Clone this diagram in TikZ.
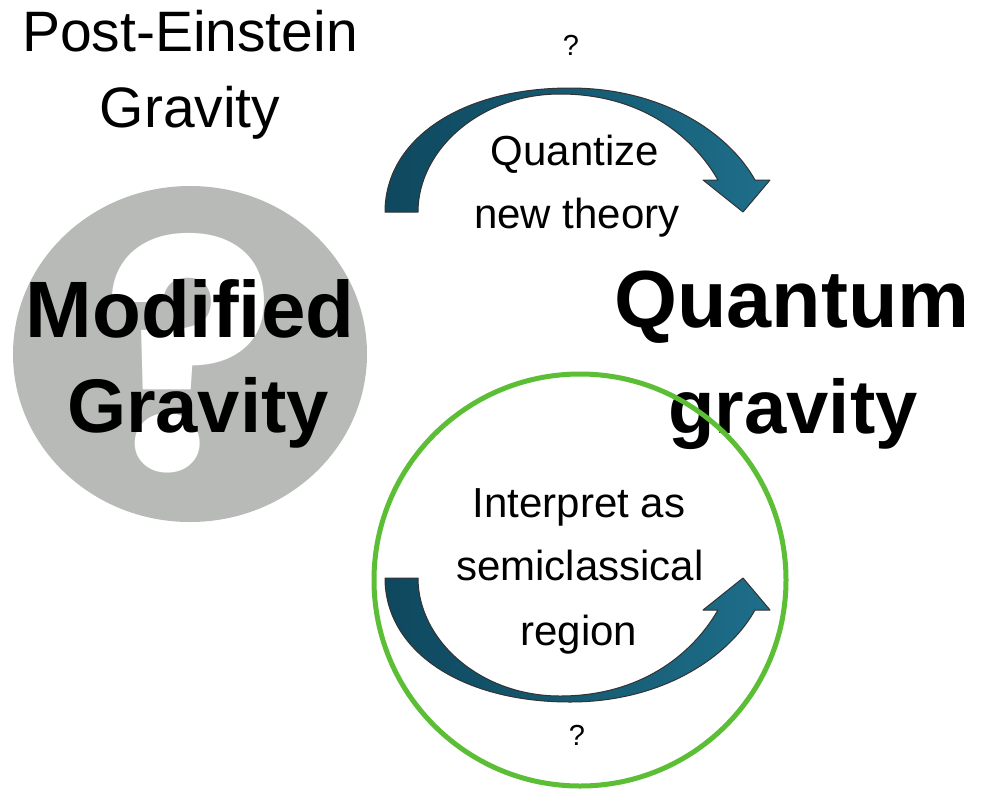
\documentclass[tikz,border=0pt]{standalone}
\usepackage{fontspec}
\setmainfont{Liberation Sans}
\newfontfamily\qmfont{Poppins}
\definecolor{qgray}{RGB}{184,186,183}
\definecolor{ringgreen}{RGB}{92,190,52}
\definecolor{tealdark}{RGB}{14,72,94}
\definecolor{teallight}{RGB}{30,110,138}
\tikzset{
  bigbold/.style={anchor=base, inner sep=0pt, font=\fontsize{80}{82}\selectfont\bfseries},
  plain/.style={anchor=base, inner sep=0pt, font=\fontsize{42}{44}\selectfont},
  headtxt/.style={anchor=base, inner sep=0pt, font=\fontsize{57}{59}\selectfont},
  qsmall/.style={anchor=base, inner sep=0pt, font=\fontsize{29}{30}\selectfont},
  curvearrow/.style={left color=tealdark, right color=teallight, draw=black!80, line width=1pt, line join=round},
}
\begin{document}
\begin{tikzpicture}[x=1pt,y=-1pt]
\useasboundingbox (0,0) rectangle (992,790);
\fill[white] (0,0) rectangle (992,790);

% grey question circle
\fill[qgray] (190,354) ellipse [x radius=177pt, y radius=168pt];
\node[anchor=base, inner sep=0pt, text=white, font=\fontsize{320}{320}\qmfont\bfseries] (qm) at (190,470) {?};

% texts
\node[headtxt] (pe1) at (190,51) {Post-Einstein};
\node[headtxt] (pe2) at (190,127) {Gravity};
\node[bigbold] (mg1) at (190,337) {Modified};
\node[bigbold, font=\fontsize{76}{78}\selectfont\bfseries] (mg2) at (198,432) {Gravity};
\node[bigbold, font=\fontsize{81}{83}\selectfont\bfseries] (qg1) at (792,327) {Quantum};
\node[bigbold, font=\fontsize{76}{78}\selectfont\bfseries] (qg2) at (793,433) {gravity};

\node[qsmall] (qtop) at (571,55) {?};
\node[qsmall] (qbot) at (577,745) {?};

\node[plain] (qz1) at (575,165) {Quantize};
\node[plain] (qz2) at (577,228) {new theory};
\node[plain] (ip1) at (579,517) {Interpret as};
\node[plain] (ip2) at (580,580) {semiclassical};
\node[plain] (ip3) at (579,645) {region};

% top curved arrow
\path[curvearrow] (385,212) .. controls (385,140) and (460,88) .. (570,88)
  .. controls (665,88) and (730,135) .. (755,180)
  -- (770,180) -- (743,212) -- (703,180) -- (718,180)
  .. controls (692,135) and (640,94) .. (560,94)
  .. controls (480,94) and (418,150) .. (418,212) -- cycle;

% bottom curved arrow
\path[curvearrow] (385,578) .. controls (385,650) and (460,702) .. (570,702)
  .. controls (665,702) and (730,655) .. (755,610)
  -- (770,610) -- (743,578) -- (703,610) -- (718,610)
  .. controls (692,655) and (640,696) .. (560,696)
  .. controls (480,696) and (418,640) .. (418,578) -- cycle;

% green ring
\draw[ringgreen, line width=5pt] (580,580) circle (206pt);
\end{tikzpicture}
\end{document}
